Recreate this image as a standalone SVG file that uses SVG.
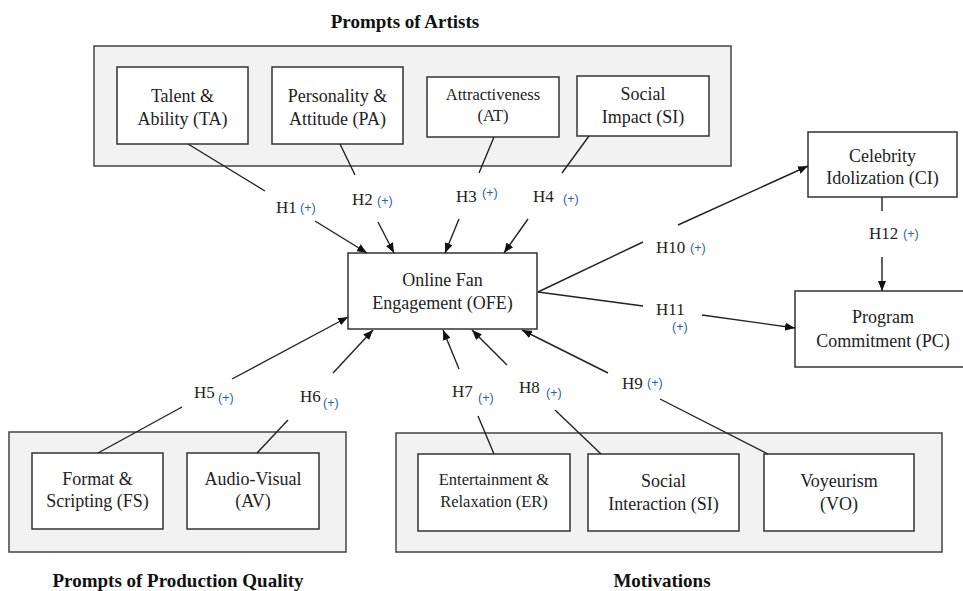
<svg xmlns="http://www.w3.org/2000/svg" width="963" height="591" viewBox="0 0 963 591">
<style>
.grp{fill:#f2f2f2;stroke:#444;stroke-width:1.5}
.box{fill:#fff;stroke:#333;stroke-width:1.5}
.t{font-family:"Liberation Serif","Times New Roman",serif;fill:#222;text-anchor:middle}
.n{font-size:18px}
.s{font-size:16.5px}
.h{font-family:"Liberation Serif","Times New Roman",serif;font-size:17px;fill:#222}
.p{font-family:"Liberation Sans",Arial,sans-serif;font-size:12.5px;fill:#2b5fad}
.title{font-family:"Liberation Serif","Times New Roman",serif;font-size:19px;font-weight:bold;fill:#111;text-anchor:middle}
.c{stroke:#222;stroke-width:1.4;fill:none}
.a{marker-end:url(#arr)}
</style>
<defs>
<marker id="arr" markerUnits="userSpaceOnUse" markerWidth="10" markerHeight="8" refX="10" refY="4" orient="auto">
<path d="M0,0 L10,4 L0,8 z" fill="#111"/>
</marker>
</defs>
<rect width="963" height="591" fill="#fff"/>

<g id="group-artists">
<rect class="grp" x="94" y="46" width="637" height="120"/>
<text class="title" x="405" y="28">Prompts of Artists</text>
</g>
<g id="group-production">
<rect class="grp" x="9" y="432" width="337" height="120"/>
<text class="title" x="178" y="587">Prompts of Production Quality</text>
</g>
<g id="group-motivations">
<rect class="grp" x="396" y="433" width="546" height="119"/>
<text class="title" x="662" y="587">Motivations</text>
</g>

<g id="TA"><rect class="box" x="117" y="67" width="131" height="77"/><text class="t n" x="182.5" y="102">Talent &amp;</text><text class="t n" x="182.5" y="125">Ability (TA)</text></g>
<g id="PA"><rect class="box" x="272" y="67" width="131" height="77"/><text class="t n" x="337.5" y="102">Personality &amp;</text><text class="t n" x="337.5" y="125">Attitude (PA)</text></g>
<g id="AT"><rect class="box" x="427" y="77" width="132" height="60"/><text class="t s" x="493" y="100">Attractiveness</text><text class="t s" x="493" y="121">(AT)</text></g>
<g id="SI-artist"><rect class="box" x="577" y="76" width="132" height="60"/><text class="t n" x="643" y="100">Social</text><text class="t n" x="643" y="123">Impact (SI)</text></g>
<g id="CI"><rect class="box" x="808" y="132" width="149" height="65"/><text class="t n" x="882.5" y="162">Celebrity</text><text class="t n" x="882.5" y="184">Idolization (CI)</text></g>
<g id="PC"><rect class="box" x="795" y="291" width="172" height="76"/><text class="t n" x="883" y="323">Program</text><text class="t n" x="883" y="347">Commitment (PC)</text></g>
<g id="OFE"><rect class="box" x="348" y="253" width="189" height="76"/><text class="t n" x="442.5" y="286">Online Fan</text><text class="t n" x="442.5" y="309">Engagement (OFE)</text></g>
<g id="FS"><rect class="box" x="32" y="453" width="131" height="76"/><text class="t n" x="97.5" y="485">Format &amp;</text><text class="t n" x="97.5" y="507">Scripting (FS)</text></g>
<g id="AV"><rect class="box" x="187" y="453" width="132" height="76"/><text class="t n" x="253" y="485">Audio-Visual</text><text class="t n" x="253" y="507">(AV)</text></g>
<g id="ER"><rect class="box" x="418" y="454" width="152" height="77"/><text class="t s" x="494" y="485">Entertainment &amp;</text><text class="t s" x="494" y="507">Relaxation (ER)</text></g>
<g id="SI-motivation"><rect class="box" x="588" y="454" width="151" height="77"/><text class="t n" x="663.5" y="487">Social</text><text class="t n" x="663.5" y="510">Interaction (SI)</text></g>
<g id="VO"><rect class="box" x="764" y="454" width="150" height="77"/><text class="t n" x="839" y="487">Voyeurism</text><text class="t n" x="839" y="510">(VO)</text></g>

<g id="connectors">
<line class="c" x1="188" y1="144" x2="265" y2="191"/>
<line class="c a" x1="315" y1="221" x2="367" y2="253"/>
<line class="c" x1="340" y1="144" x2="355" y2="175"/>
<line class="c a" x1="378" y1="222" x2="394" y2="253"/>
<line class="c" x1="494" y1="137" x2="479" y2="173"/>
<line class="c a" x1="459" y1="219" x2="445" y2="253"/>
<line class="c" x1="589" y1="136" x2="562" y2="173"/>
<line class="c a" x1="528" y1="219" x2="504" y2="253"/>
<line class="c" x1="538" y1="292" x2="643" y2="242"/>
<line class="c a" x1="678" y1="225" x2="808" y2="166"/>
<line class="c" x1="538" y1="292" x2="643" y2="306"/>
<line class="c a" x1="702" y1="315" x2="795" y2="328"/>
<line class="c" x1="882" y1="197" x2="882" y2="211"/>
<line class="c a" x1="882" y1="257" x2="882" y2="291"/>
<line class="c" x1="98" y1="453" x2="182" y2="407"/>
<line class="c a" x1="232" y1="379" x2="348" y2="317"/>
<line class="c" x1="257" y1="453" x2="288" y2="420"/>
<line class="c a" x1="333" y1="373" x2="373" y2="330"/>
<line class="c" x1="494" y1="454" x2="478" y2="416"/>
<line class="c a" x1="459" y1="369" x2="443" y2="330"/>
<line class="c" x1="601" y1="454" x2="555" y2="410"/>
<line class="c a" x1="507" y1="365" x2="472" y2="330"/>
<line class="c" x1="768" y1="454" x2="660" y2="399"/>
<line class="c a" x1="608" y1="373" x2="522" y2="330"/>

<text class="h" x="276" y="213">H1</text><text class="p" x="300" y="212">(+)</text>
<text class="h" x="352" y="205">H2</text><text class="p" x="377" y="205">(+)</text>
<text class="h" x="456" y="202">H3</text><text class="p" x="482" y="197">(+)</text>
<text class="h" x="533" y="202">H4</text><text class="p" x="563" y="203">(+)</text>
<text class="h" x="194" y="398">H5</text><text class="p" x="218" y="402">(+)</text>
<text class="h" x="300" y="402">H6</text><text class="p" x="323" y="407">(+)</text>
<text class="h" x="452" y="397">H7</text><text class="p" x="478" y="402">(+)</text>
<text class="h" x="519" y="393">H8</text><text class="p" x="546" y="397">(+)</text>
<text class="h" x="622" y="389">H9</text><text class="p" x="647" y="387">(+)</text>
<text class="h" x="656" y="253">H10</text><text class="p" x="690" y="252">(+)</text>
<text class="h" x="656" y="315">H11</text><text class="p" x="672" y="331">(+)</text>
<text class="h" x="869" y="239">H12</text><text class="p" x="903" y="238">(+)</text>
</g>
</svg>
